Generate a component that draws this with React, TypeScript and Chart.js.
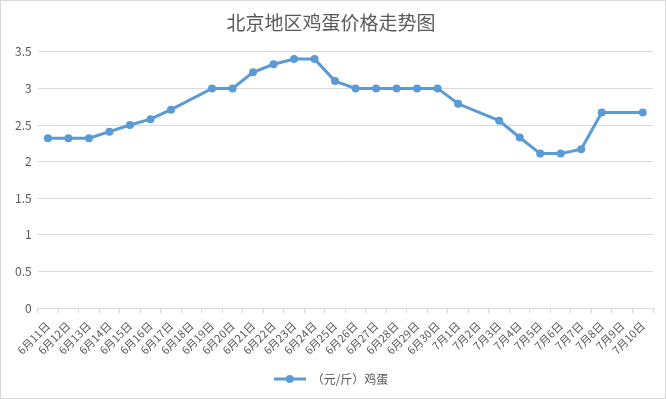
import React, { useEffect, useRef } from "react";
import { Chart, registerables } from "chart.js";

Chart.register(...registerables);

const categories: string[] = [
  "6月11日", "6月12日", "6月13日", "6月14日", "6月15日", "6月16日", "6月17日", "6月18日",
  "6月19日", "6月20日", "6月21日", "6月22日", "6月23日", "6月24日", "6月25日", "6月26日",
  "6月27日", "6月28日", "6月29日", "6月30日", "7月1日", "7月2日", "7月3日", "7月4日",
  "7月5日", "7月6日", "7月7日", "7月8日", "7月9日", "7月10日",
];

const eggPrices: (number | null)[] = [
  2.32, 2.32, 2.32, 2.41, 2.5, 2.58, 2.71, null,
  3.0, 3.0, 3.22, 3.33, 3.4, 3.4, 3.1, 3.0,
  3.0, 3.0, 3.0, 3.0, 2.79, null, 2.56, 2.33,
  2.11, 2.11, 2.17, 2.67, null, 2.67,
];

const seriesName = "（元/斤）鸡蛋";
const chartTitle = "北京地区鸡蛋价格走势图";
const yTicks = [0, 0.5, 1, 1.5, 2, 2.5, 3, 3.5];

const LINE_COLOR = "#5b9bd5";
const TEXT_COLOR = "#595959";
const GRID_COLOR = "#d9d9d9";
const FONT = '"Noto Sans CJK SC", "Noto Sans", sans-serif';

function makeLegendIcon(): HTMLCanvasElement {
  const c = document.createElement("canvas");
  c.width = 32;
  c.height = 10;
  const ctx = c.getContext("2d")!;
  ctx.strokeStyle = LINE_COLOR;
  ctx.lineWidth = 3;
  ctx.beginPath();
  ctx.moveTo(0, 5);
  ctx.lineTo(32, 5);
  ctx.stroke();
  ctx.fillStyle = LINE_COLOR;
  ctx.beginPath();
  ctx.arc(16, 5, 4, 0, Math.PI * 2);
  ctx.fill();
  return c;
}

export default function App() {
  const ref = useRef<HTMLCanvasElement | null>(null);

  useEffect(() => {
    if (!ref.current) return;
    const chart = new Chart(ref.current, {
      type: "line",
      data: {
        labels: categories,
        datasets: [
          {
            label: seriesName,
            data: eggPrices,
            borderColor: LINE_COLOR,
            backgroundColor: LINE_COLOR,
            borderWidth: 3,
            pointRadius: 4,
            pointBorderWidth: 0,
            pointBackgroundColor: LINE_COLOR,
            spanGaps: true,
            tension: 0,
          },
        ],
      },
      options: {
        animation: false,
        responsive: false,
        maintainAspectRatio: false,
        layout: { padding: { left: 8, right: 12, top: 4, bottom: 3 } },
        plugins: {
          title: {
            display: true,
            text: chartTitle,
            color: TEXT_COLOR,
            font: { family: FONT, size: 19, weight: "normal" },
            padding: { top: 6, bottom: 18 },
          },
          legend: {
            display: true,
            position: "bottom",
            labels: {
              usePointStyle: true,
              pointStyle: makeLegendIcon() as any,
              pointStyleWidth: 32,
              color: TEXT_COLOR,
              font: { family: FONT, size: 12 },
              padding: 10,
            },
          },
          tooltip: { enabled: false },
        },
        scales: {
          x: {
            type: "category",
            offset: true,
            grid: {
              display: true,
              drawOnChartArea: false,
              drawTicks: true,
              tickLength: 5,
              offset: true,
              color: GRID_COLOR,
            },
            border: { display: true, color: GRID_COLOR },
            ticks: {
              autoSkip: false,
              maxRotation: 45,
              minRotation: 45,
              color: TEXT_COLOR,
              font: { family: FONT, size: 11 },
              padding: 6,
            },
          },
          y: {
            min: 0,
            max: 3.5,
            afterBuildTicks: (axis: any) => {
              axis.ticks = yTicks.map((v) => ({ value: v }));
            },
            grid: { color: GRID_COLOR, drawTicks: false },
            border: { display: false },
            ticks: {
              color: TEXT_COLOR,
              font: { family: FONT, size: 12 },
              padding: 6,
              callback: (v: any) => String(Number(v)),
            },
          },
        },
      },
    });
    return () => chart.destroy();
  }, []);

  return (
    <div
      style={{
        position: "absolute",
        left: 0,
        top: 0,
        width: 666,
        height: 399,
        boxSizing: "border-box",
        border: "1px solid #d9d9d9",
        background: "#fff",
      }}
    >
      <canvas ref={ref} width={664} height={397} style={{ display: "block" }} />
    </div>
  );
}
